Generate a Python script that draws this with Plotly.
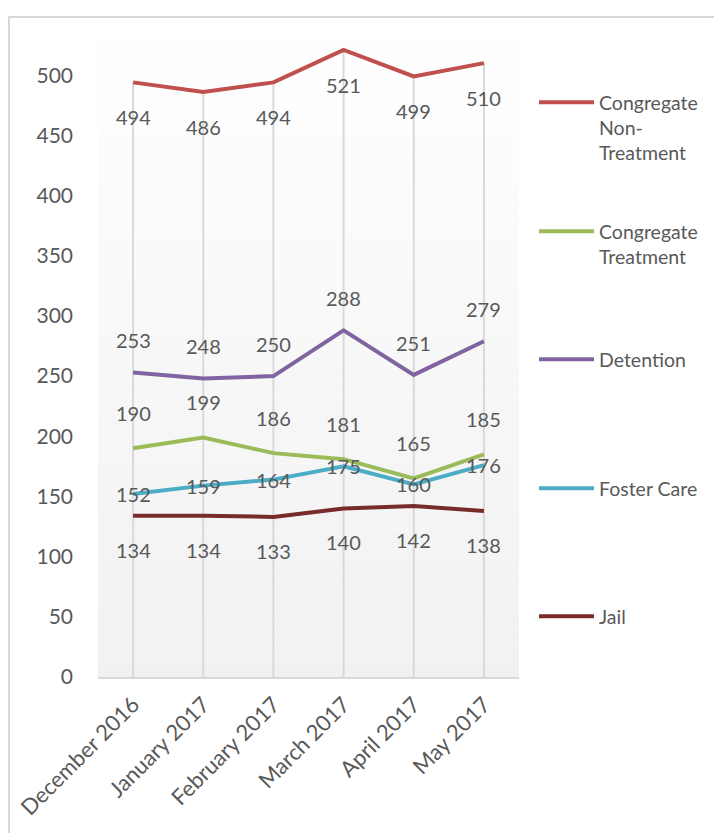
import plotly.graph_objects as go

# Category labels on the x axis
MONTHS = [
    "December 2016",
    "January 2017",
    "February 2017",
    "March 2017",
    "April 2017",
    "May 2017",
]

# Series values
CONGREGATE_NON_TREATMENT = [494, 486, 494, 521, 499, 510]
CONGREGATE_TREATMENT = [190, 199, 186, 181, 165, 185]
DETENTION = [253, 248, 250, 288, 251, 279]
FOSTER_CARE = [152, 159, 164, 175, 160, 176]
JAIL = [134, 134, 133, 140, 142, 138]

Y_TICKS = [0, 50, 100, 150, 200, 250, 300, 350, 400, 450, 500]

FONT = "Lato"
TEXT_COLOR = "#595959"
GRID_COLOR = "#d9d9d9"

# name, values, colour, label offset (px), legend first-line centre (screen px)
SERIES = [
    ("Congregate<br>Non-<br>Treatment", CONGREGATE_NON_TREATMENT, "#c0504d", -35, 101),
    ("Congregate<br>Treatment", CONGREGATE_TREATMENT, "#9bbb59", 35, 230),
    ("Detention", DETENTION, "#8064a2", 32, 358),
    ("Foster Care", FOSTER_CARE, "#4bacc6", 0, 487),
    ("Jail", JAIL, "#772c2a", -34, 615),
]

# The page body adds an 8px margin, so the figure is a bit smaller than the window
PAGE_OFFSET = 8
W, H = 722 - PAGE_OFFSET, 833 - PAGE_OFFSET
# plot area in figure pixels
PLOT_LEFT, PLOT_RIGHT, PLOT_TOP, PLOT_BOTTOM = 90, 511, 13, 669


def px_to_paper_x(screen_px):
    return (screen_px - PAGE_OFFSET - PLOT_LEFT) / (PLOT_RIGHT - PLOT_LEFT)


def px_to_paper_y(screen_py):
    return (PLOT_BOTTOM - (screen_py - PAGE_OFFSET)) / (PLOT_BOTTOM - PLOT_TOP)


x_idx = list(range(len(MONTHS)))
fig = go.Figure()

legend_layouts = {}
for i, (name, values, color, shift, legend_y) in enumerate(SERIES):
    legend_key = "legend" if i == 0 else f"legend{i + 1}"
    fig.add_trace(
        go.Scatter(
            x=x_idx,
            y=values,
            mode="lines",
            name=name,
            line=dict(color=color, width=4),
            legend=legend_key,
            hoverinfo="skip",
        )
    )
    legend_layouts[legend_key] = dict(
        x=px_to_paper_x(534),
        xanchor="left",
        y=px_to_paper_y(legend_y - 18),
        yanchor="top",
        valign="top",
        bgcolor="rgba(0,0,0,0)",
        font=dict(family=FONT, size=19.5, color=TEXT_COLOR),
        itemwidth=55,
    )
    # Data labels
    for xi, v in zip(x_idx, values):
        fig.add_annotation(
            x=xi,
            y=v,
            text=str(v),
            showarrow=False,
            yshift=shift,
            font=dict(family=FONT, size=20, color=TEXT_COLOR),
        )

# Gradient background of the plot area (white to light grey)
n_bands = 40
for b in range(n_bands):
    t = (b + 0.5) / n_bands
    shade = round(255 - (255 - 241) * t)
    fig.add_shape(
        type="rect",
        xref="x domain",
        yref="y domain",
        x0=0,
        x1=1,
        y0=1 - (b + 1) / n_bands,
        y1=1 - b / n_bands,
        fillcolor=f"rgb({shade},{shade},{shade})",
        line_width=0,
        layer="below",
    )

# Drop lines from the highest point down to the axis
all_values = [s[1] for s in SERIES]
for xi in x_idx:
    top = max(vals[xi] for vals in all_values)
    fig.add_shape(
        type="line",
        xref="x",
        yref="y",
        x0=xi,
        x1=xi,
        y0=0,
        y1=top,
        line=dict(color=GRID_COLOR, width=2),
        layer="below",
    )

# Chart frame
fig.add_shape(
    type="rect",
    xref="paper",
    yref="paper",
    x0=px_to_paper_x(9),
    x1=px_to_paper_x(760),
    y0=px_to_paper_y(880),
    y1=px_to_paper_y(17),
    line=dict(color=GRID_COLOR, width=2),
    fillcolor="rgba(0,0,0,0)",
)

fig.update_layout(
    width=W,
    height=H,
    margin=dict(
        l=PLOT_LEFT, r=W - PLOT_RIGHT, t=PLOT_TOP, b=H - PLOT_BOTTOM, autoexpand=False
    ),
    paper_bgcolor="white",
    plot_bgcolor="white",
    font=dict(family=FONT, color=TEXT_COLOR),
    showlegend=True,
    **legend_layouts,
)

fig.update_xaxes(
    range=[-0.5, len(MONTHS) - 0.5],
    tickvals=x_idx,
    ticktext=MONTHS,
    tickangle=-45,
    tickfont=dict(family=FONT, size=22, color=TEXT_COLOR),
    showgrid=False,
    zeroline=False,
    showline=True,
    linecolor=GRID_COLOR,
    linewidth=2,
    ticks="",
    ticklabelstandoff=4,
    automargin=False,
)
fig.update_yaxes(
    range=[0, 545],
    tickvals=Y_TICKS,
    tickfont=dict(family=FONT, size=21, color=TEXT_COLOR),
    showgrid=False,
    zeroline=False,
    showline=False,
    ticks="",
    ticklabelstandoff=24,
    automargin=False,
)

fig.write_html("out.html")
